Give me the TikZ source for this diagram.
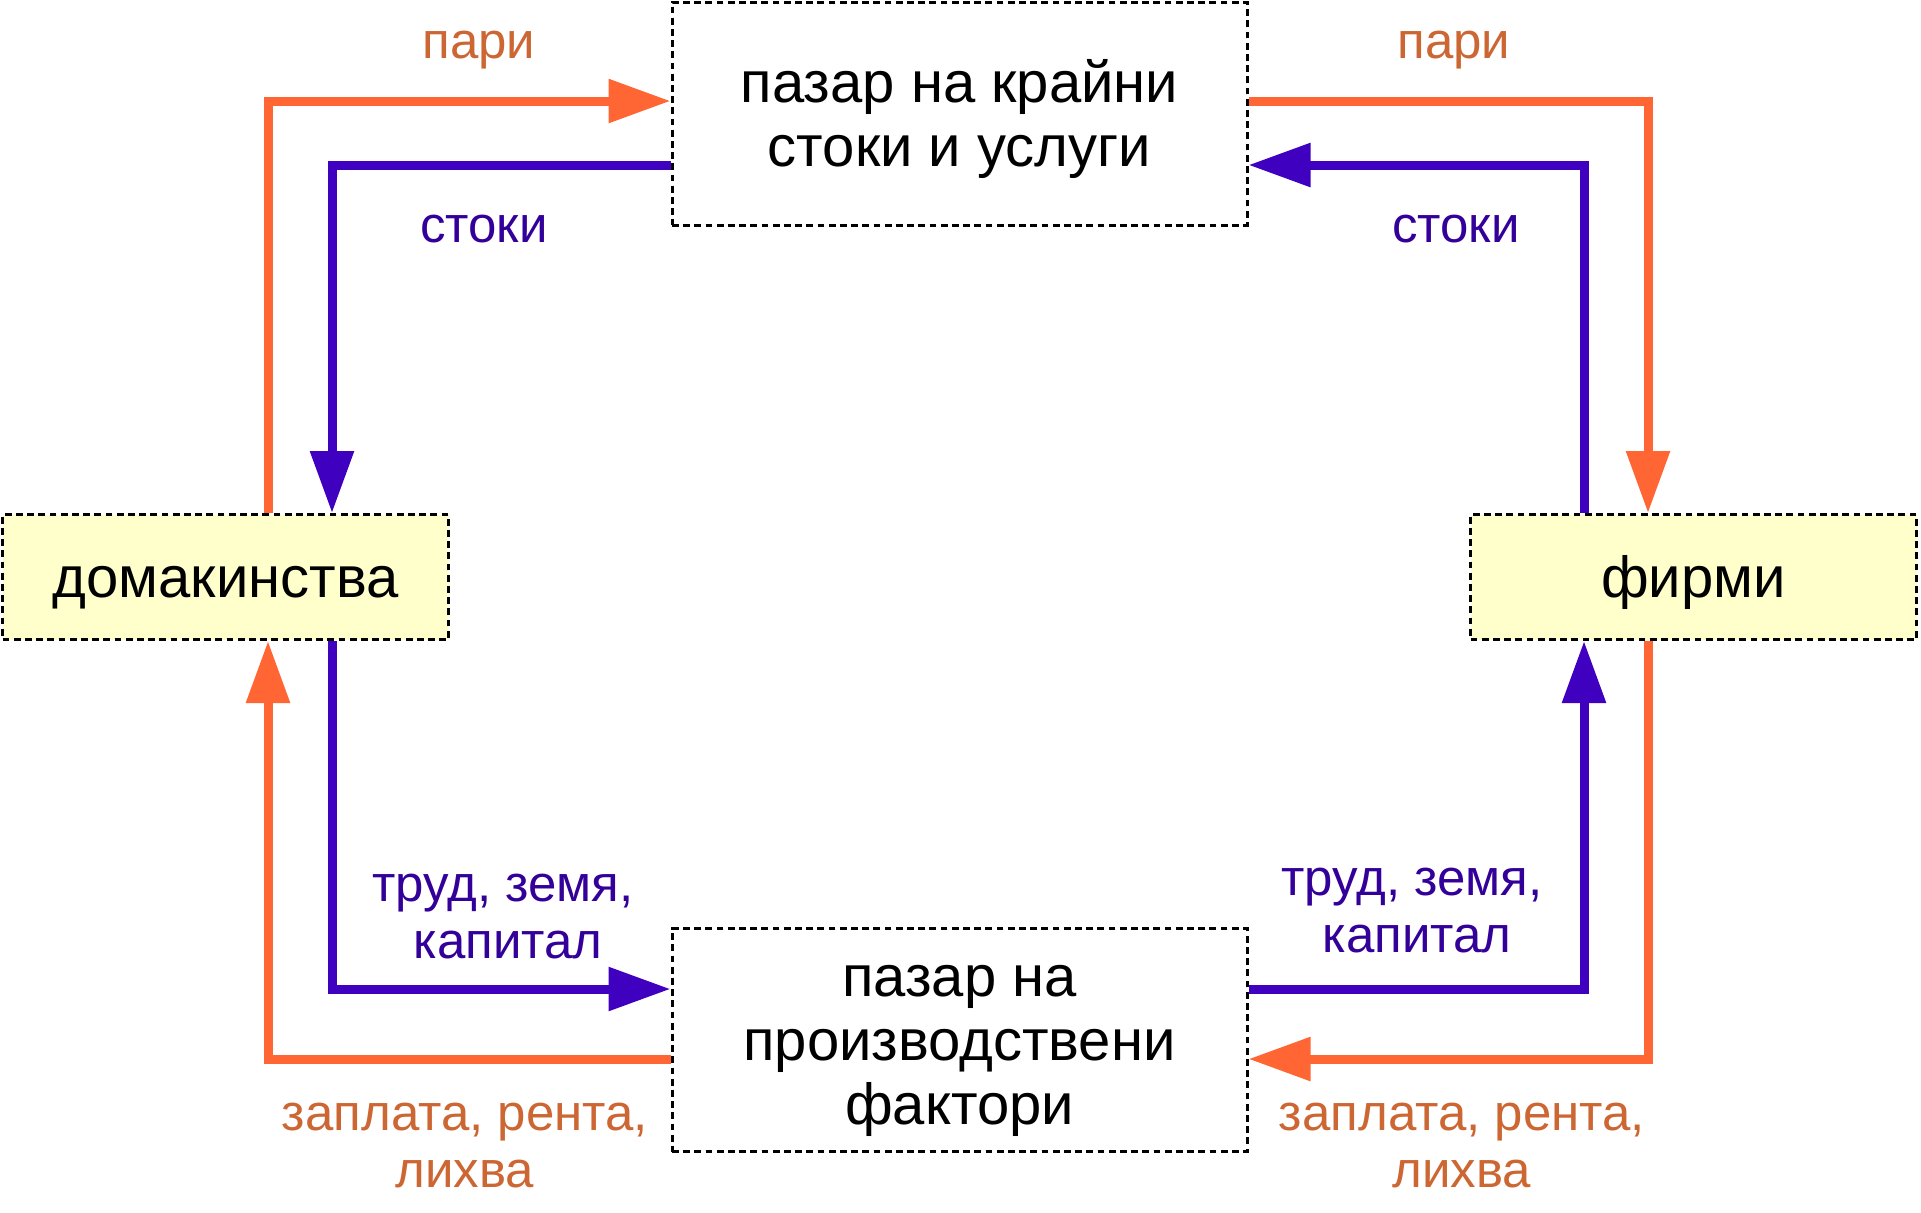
\documentclass[tikz,border=0pt]{standalone}
\usepackage{fontspec}
\setmainfont{Liberation Sans}
\usetikzlibrary{arrows.meta}
\definecolor{olinec}{HTML}{FF6633}
\definecolor{otextc}{HTML}{CC6633}
\definecolor{blinec}{HTML}{3F00BF}
\definecolor{btextc}{HTML}{330099}
\definecolor{boxfillc}{HTML}{FFFFCC}
\newcommand\mlines[1]{\vtop{\halign{\hfil##\hfil\cr#1\crcr}}}
\tikzset{
  mkt/.style={draw=black, line width=1.5pt, dash pattern=on 3.4pt off 2.2pt, minimum width=287.5pt, minimum height=111.5pt, inner sep=0pt},
  agent/.style={draw=black, fill=boxfillc, line width=1.5pt, dash pattern=on 3.4pt off 2.2pt, minimum width=223pt, minimum height=62.5pt, inner sep=0pt},
  maintext/.style={anchor=base, inner sep=0pt, font=\fontsize{29pt}{32pt}\selectfont},
  olbl/.style={anchor=base, inner sep=0pt, text=otextc, font=\fontsize{25.5pt}{28.5pt}\selectfont},
  blbl/.style={anchor=base, inner sep=0pt, text=btextc, font=\fontsize{25.5pt}{28.5pt}\selectfont},
  oarrow/.style={draw=olinec, line width=4.5pt, -{Triangle[length=31pt,width=21pt]}},
  barrow/.style={draw=blinec, line width=4.5pt, -{Triangle[length=31pt,width=21pt]}},
}
\begin{document}
\begin{tikzpicture}[x=0.5pt,y=-0.5pt]
\useasboundingbox (0,0) rectangle (1921,1212);
% boxes
\node[mkt] (top) at (959.5,113.5) {};
\node[mkt] (bot) at (959.5,1040) {};
\node[agent] (dom) at (225.5,577) {};
\node[agent] (fir) at (1693.5,577) {};
% box texts
\node[maintext] (toptxt) at (959.5,102) {\mlines{пазар на крайни\cr стоки и услуги}};
\node[maintext] (bottxt) at (959.5,996) {\mlines{пазар на\cr производствени\cr фактори}};
\node[maintext] (domtxt) at (225.5,597) {домакинства};
\node[maintext] (firtxt) at (1693.5,597) {фирми};
% connectors
\draw[oarrow] (dom.north -| 268,0) |- (top.west |- 0,101);
\draw[barrow] (top.west |- 0,165) -| (dom.north -| 332,0);
\draw[oarrow] (top.east |- 0,101) -| (fir.north -| 1648,0);
\draw[barrow] (fir.north -| 1584,0) |- (top.east |- 0,165);
\draw[barrow] (dom.south -| 332,0) |- (bot.west |- 0,989);
\draw[oarrow] (bot.west |- 0,1059) -| (dom.south -| 268,0);
\draw[barrow] (bot.east |- 0,989) -| (fir.south -| 1584,0);
\draw[oarrow] (fir.south -| 1648,0) |- (bot.east |- 0,1059);
% labels
\node[olbl] (pariL) at (479,58) {пари};
\node[olbl] (pariR) at (1454,58) {пари};
\node[blbl] (stokiL) at (484,242) {стоки};
\node[blbl] (stokiR) at (1456,242) {стоки};
\node[blbl] (trudL) at (503,901) {\mlines{труд, земя,\cr \hspace*{5pt}капитал}};
\node[blbl] (trudR) at (1412,895) {\mlines{труд, земя,\cr \hspace*{5pt}капитал}};
\node[olbl] (zaplL) at (465,1130) {\mlines{заплата, рента,\cr лихва}};
\node[olbl] (zaplR) at (1462,1130) {\mlines{заплата, рента,\cr лихва}};
\end{tikzpicture}
\end{document}
